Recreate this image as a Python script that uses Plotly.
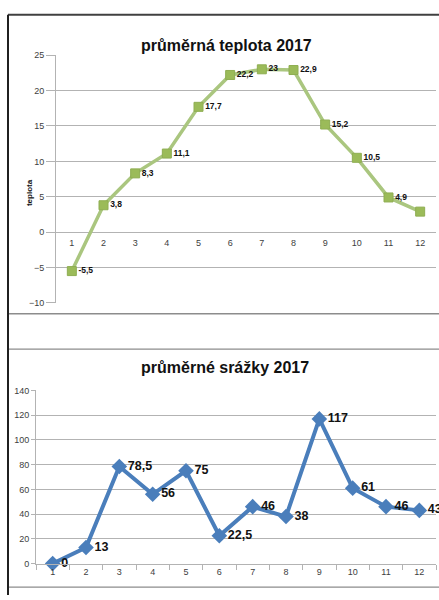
import plotly.graph_objects as go

months = ["1", "2", "3", "4", "5", "6", "7", "8", "9", "10", "11", "12"]
temperature = [-5.5, 3.8, 8.3, 11.1, 17.7, 22.2, 23, 22.9, 15.2, 10.5, 4.9, 2.9]
temp_labels = ["-5,5", "3,8", "8,3", "11,1", "17,7", "22,2", "23", "22,9", "15,2", "10,5", "4,9", ""]
precip = [0, 13, 78.5, 56, 75, 22.5, 46, 38, 117, 61, 46, 43]
precip_labels = ["0", "13", "78,5", "56", "75", "22,5", "46", "38", "117", "61", "46", "43"]

W, H = 439, 600
FONT = "Liberation Sans"
GRID = "#b3b3b3"
TICKC = "#404040"

top_dom_y = [1 - 303 / H, 1 - 51 / H]
bot_dom_y = [1 - 568 / H, 1 - 392 / H]
t_rng = [-10, 25]
zero_pos = top_dom_y[0] + (0 - t_rng[0]) / (t_rng[1] - t_rng[0]) * (top_dom_y[1] - top_dom_y[0])

fig = go.Figure()
fig.add_trace(go.Scatter(
    x=months, y=temperature, text=temp_labels, mode="lines+markers+text",
    textposition="middle right", cliponaxis=False,
    textfont=dict(family=FONT, size=8.5, color="#111111", weight="bold"),
    line=dict(color="#aac67f", width=3.5),
    marker=dict(symbol="square", size=9, color="#9bbb59", line=dict(color="#8fae52", width=1)),
    xaxis="x", yaxis="y", showlegend=False))
fig.add_trace(go.Scatter(
    x=months, y=precip, text=precip_labels, mode="lines+markers+text",
    textposition="middle right", cliponaxis=False,
    textfont=dict(family=FONT, size=12.5, color="#111111", weight="bold"),
    line=dict(color="#4a7ebb", width=4),
    marker=dict(symbol="diamond", size=12, color="#4a7ebb"),
    xaxis="x2", yaxis="y2", showlegend=False))

fig.update_layout(
    width=W, height=H, margin=dict(l=0, r=0, t=0, b=0),
    paper_bgcolor="white", plot_bgcolor="white",
    font=dict(family=FONT, color=TICKC, size=9),
    xaxis=dict(domain=[56 / W, 436 / W], anchor="free", position=zero_pos,
               type="category", range=[-0.5, 11.5], showgrid=False, showline=False,
               ticks="", tickfont=dict(size=9, color=TICKC), ticklabelstandoff=4),
    yaxis=dict(domain=top_dom_y, range=t_rng, dtick=5, showgrid=True, gridcolor=GRID,
               zeroline=False, showline=True, linecolor=GRID, ticks="outside", ticklen=9,
               tickcolor=GRID, tickfont=dict(size=9, color=TICKC), anchor="x"),
    xaxis2=dict(domain=[36 / W, 436 / W], anchor="y2", type="category", range=[-0.5, 11.5],
                showgrid=False, showline=True, linecolor=GRID, ticks="outside",
                tickson="boundaries", ticklen=5, tickcolor=GRID,
                tickfont=dict(size=9, color=TICKC)),
    yaxis2=dict(domain=bot_dom_y, range=[0, 140], dtick=20, showgrid=True, gridcolor=GRID,
                zeroline=False, showline=True, linecolor=GRID, ticks="outside", ticklen=4,
                tickcolor=GRID, tickfont=dict(size=9, color=TICKC), anchor="x2"),
)

fig.add_annotation(text="<b>průměrná teplota 2017</b>", x=226 / W, y=1 - 30 / H,
                   xref="paper", yref="paper", showarrow=False,
                   font=dict(family=FONT, size=16, color="#111111"))
fig.add_annotation(text="<b>průměrné srážky 2017</b>", x=225 / W, y=1 - 369 / H,
                   xref="paper", yref="paper", showarrow=False,
                   font=dict(family=FONT, size=16, color="#111111"))
fig.add_annotation(text="<b>teplota</b>", x=23 / W, y=1 - 175 / H, textangle=-90,
                   xref="paper", yref="paper", showarrow=False,
                   font=dict(family=FONT, size=8, color="#111111"))

def hline(y, color, width):
    fig.add_shape(type="line", xref="paper", yref="paper", x0=8 / W, x1=1.0,
                  y0=1 - y / H, y1=1 - y / H, line=dict(color=color, width=width))

hline(10, "#404040", 2)
hline(314, "#8c8c8c", 1.3)
hline(350, "#8c8c8c", 1.3)
hline(592, "#8c8c8c", 1.3)
fig.add_shape(type="line", xref="paper", yref="paper", x0=8 / W, x1=8 / W,
              y0=0, y1=1 - 10 / H, line=dict(color="#202020", width=2))

fig.write_html("out.html", config={"displayModeBar": False},
               post_script="document.body.style.margin='0';document.body.style.overflow='hidden';")
